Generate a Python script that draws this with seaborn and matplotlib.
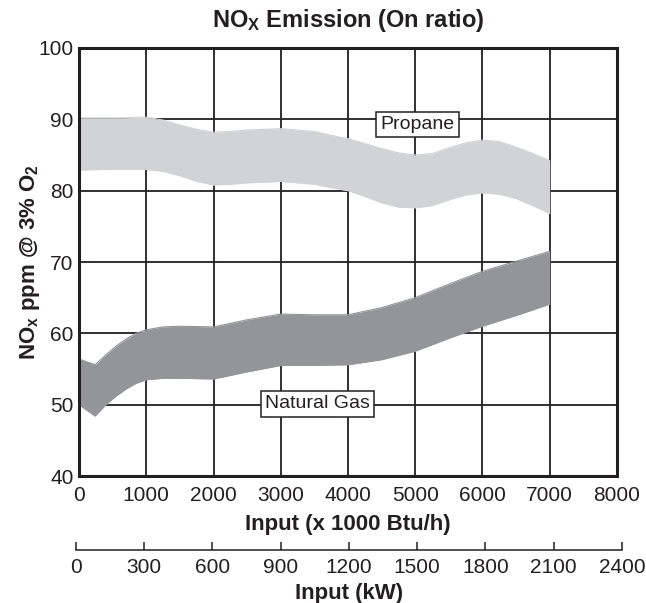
import matplotlib
matplotlib.use("Agg")
import matplotlib.pyplot as plt
import numpy as np
import pandas as pd
import seaborn as sns

# values (kBtu/h vs ppm)
propane_x = [0, 500, 1000, 1250, 1500, 1750, 2000, 2250, 2500, 3000, 3500, 3875, 4000, 4250, 4500, 4750, 5000, 5250, 5500, 5750, 6000, 6250, 6500, 6750, 7000]
propane_hi = [90.2, 90.2, 90.3, 89.9, 89.2, 88.6, 88.2, 88.3, 88.5, 88.7, 88.3, 87.5, 87.3, 86.6, 85.9, 85.3, 85.0, 85.2, 86.0, 86.7, 87.1, 86.9, 86.1, 85.2, 84.2]
propane_lo = [82.9, 83.0, 83.0, 82.7, 82.1, 81.3, 80.8, 80.9, 81.1, 81.3, 80.9, 80.2, 80.0, 79.2, 78.3, 77.7, 77.6, 77.9, 78.7, 79.4, 79.7, 79.5, 78.9, 77.9, 76.8]

gas_x = [0, 240, 400, 550, 700, 850, 1000, 1250, 1500, 2000, 2500, 3000, 3500, 4000, 4500, 5000, 5500, 6000, 6500, 7000]
gas_hi = [56.4, 55.6, 57.0, 58.2, 59.2, 60.0, 60.5, 60.9, 61.0, 60.9, 61.9, 62.7, 62.6, 62.6, 63.6, 65.0, 66.9, 68.7, 70.1, 71.5]
gas_lo = [50.0, 48.4, 50.0, 51.2, 52.2, 53.0, 53.5, 53.7, 53.7, 53.6, 54.6, 55.5, 55.5, 55.6, 56.3, 57.5, 59.3, 61.0, 62.5, 64.1]

btu_ticks = [0, 1000, 2000, 3000, 4000, 5000, 6000, 7000, 8000]
kw_ticks = [0, 300, 600, 900, 1200, 1500, 1800, 2100, 2400]
ppm_ticks = [40, 50, 60, 70, 80, 90, 100]

sns.set_style("white")
plt.rcParams['font.family'] = ['Liberation Sans', 'DejaVu Sans']
plt.rcParams['mathtext.fontset'] = 'custom'
plt.rcParams['mathtext.rm'] = 'Liberation Sans:bold'
plt.rcParams['mathtext.bf'] = 'Liberation Sans:bold'
plt.rcParams['mathtext.default'] = 'bf'

ink = '#231f20'
fig = plt.figure(figsize=(6.46, 6.03), dpi=100)
ax = fig.add_axes([0.1223, 0.2106, 0.8328, 0.7098])

for x in btu_ticks[1:-1]:
    ax.axvline(x, color=ink, lw=1.3, zorder=1)
for y in ppm_ticks[1:-1]:
    ax.axhline(y, color=ink, lw=1.3, zorder=1)

prop = pd.DataFrame({'x': propane_x, 'hi': propane_hi, 'lo': propane_lo})
gas = pd.DataFrame({'x': gas_x, 'hi': gas_hi, 'lo': gas_lo})

ax.fill_between(prop['x'], prop['lo'], prop['hi'], color='#d1d3d4', lw=0, zorder=2)
ax.fill_between(gas['x'], gas['lo'], gas['hi'], color='#939598', lw=0, zorder=2)
for d, c in [(prop, '#d1d3d4'), (gas, '#939598')]:
    sns.lineplot(data=d, x='x', y='hi', color=c, lw=0.8, ax=ax, zorder=2)
    sns.lineplot(data=d, x='x', y='lo', color=c, lw=0.8, ax=ax, zorder=2)

box = dict(boxstyle='square,pad=0.22', fc='white', ec=ink, lw=1.1)
ax.text(5030, 89.3, 'Propane', fontsize=14, ha='center', va='center', bbox=box, zorder=5, color=ink)
ax.text(3550, 50.1, 'Natural Gas', fontsize=14, ha='center', va='center', bbox=box, zorder=5, color=ink)

ax.set_xlim(0, 8000)
ax.set_ylim(40, 100)
ax.set_xticks(btu_ticks)
ax.set_yticks(ppm_ticks)
ax.tick_params(axis='x', length=0, labelsize=15, colors=ink, pad=7)
ax.tick_params(axis='y', length=0, labelsize=15, colors=ink, pad=4)
for s in ax.spines.values():
    s.set_visible(True)
    s.set_color(ink)
    s.set_linewidth(2.2)
    s.set_zorder(6)
ax.set_xlabel('Input (x 1000 Btu/h)', fontsize=16, fontweight='bold', color=ink, labelpad=7)
ax.set_ylabel(r'NO$_\mathregular{x}$ ppm @ 3% O$_\mathregular{2}$', fontsize=16, fontweight='bold', color=ink, labelpad=-3)
ax.set_title(r'NO$_\mathregular{X}$ Emission (On ratio)', fontsize=17, fontweight='bold', color=ink, pad=15)

# second scale in kW
ax2 = fig.add_axes([0.1176, 0.0879, 0.845, 0.0001])
ax2.set_xlim(0, 2400)
ax2.set_xticks(kw_ticks)
ax2.set_yticks([])
for k in ['top', 'left', 'right']:
    ax2.spines[k].set_visible(False)
ax2.spines['bottom'].set_visible(True)
ax2.spines['bottom'].set_color(ink)
ax2.spines['bottom'].set_linewidth(1.1)
ax2.tick_params(axis='x', bottom=True, direction='in', length=6, width=1.1, colors=ink, labelsize=15, pad=6)
ax2.set_xlabel('Input (kW)', fontsize=16, fontweight='bold', color=ink, labelpad=4)
ax2.patch.set_visible(False)

fig.savefig('out.png', dpi=100)
